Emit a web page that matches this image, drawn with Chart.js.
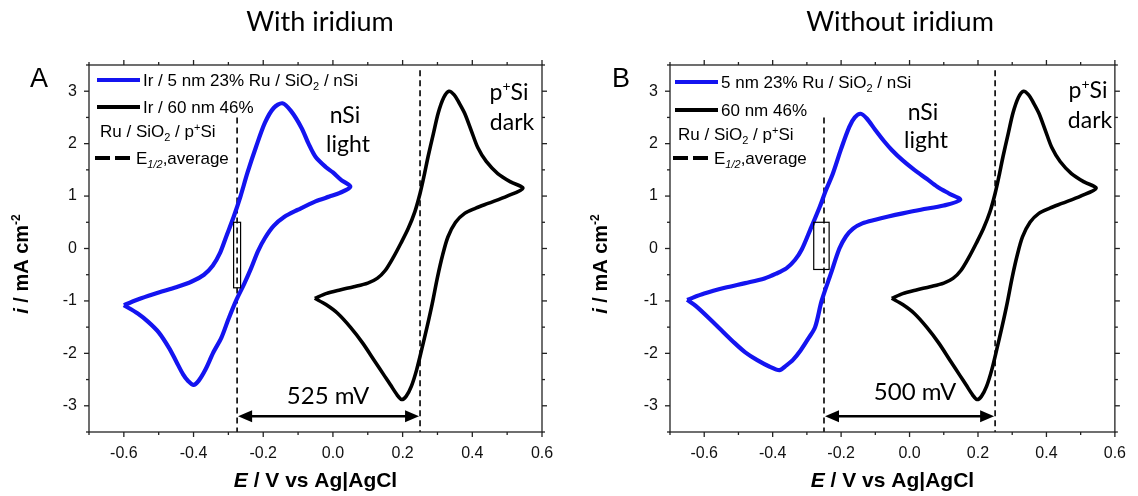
<!DOCTYPE html>
<html>
<head>
<meta charset="utf-8">
<script src="https://cdn.jsdelivr.net/npm/chart.js@4.4.1/dist/chart.umd.min.js"></script>
<style>
  body { margin: 0; background: #fff; }
  #wrap { position: relative; width: 1138px; height: 496px; }
  canvas { position: absolute; top: 0; }
</style>
</head>
<body>
<div id="wrap">
  <canvas id="chart-a" width="569" height="496" style="left:0"></canvas>
  <canvas id="chart-b" width="569" height="496" style="left:569px"></canvas>
</div>
<script>
// axis ticks
const xTicks = [-0.6, -0.4, -0.2, 0, 0.2, 0.4, 0.6];
const xMinor = [-0.7, -0.5, -0.3, -0.1, 0.1, 0.3, 0.5];
const yTicks = [-3, -2, -1, 0, 1, 2, 3];
const yMinor = [-3.5, -2.5, -1.5, -0.5, 0.5, 1.5, 2.5, 3.5];

// [E (V), i (mA cm-2)]
const blueA = [
  [-0.6, -1.08], [-0.55, -0.95], [-0.5, -0.84], [-0.45, -0.74], [-0.405, -0.63], [-0.37, -0.5],
  [-0.345, -0.33], [-0.325, -0.1], [-0.305, 0.25], [-0.285, 0.6], [-0.265, 1.0], [-0.245, 1.45],
  [-0.22, 1.95], [-0.195, 2.4], [-0.17, 2.68], [-0.145, 2.77], [-0.12, 2.62], [-0.09, 2.3],
  [-0.07, 2.0], [-0.05, 1.75], [-0.02, 1.55], [0.0, 1.45], [0.025, 1.3], [0.05, 1.18],
  [0.02, 1.06], [-0.01, 0.99], [-0.05, 0.9], [-0.1, 0.74], [-0.14, 0.6], [-0.17, 0.43],
  [-0.195, 0.2], [-0.215, -0.05], [-0.235, -0.38], [-0.255, -0.68], [-0.277, -0.98], [-0.3, -1.35],
  [-0.32, -1.7], [-0.343, -1.98], [-0.365, -2.3], [-0.385, -2.52], [-0.4, -2.6], [-0.415, -2.53],
  [-0.43, -2.4], [-0.45, -2.15], [-0.47, -1.9], [-0.5, -1.6], [-0.53, -1.4], [-0.56, -1.24],
  [-0.6, -1.08]
];
const blueB = [
  [-0.65, -0.98], [-0.6, -0.86], [-0.54, -0.75], [-0.48, -0.66], [-0.424, -0.57], [-0.39, -0.48],
  [-0.36, -0.38], [-0.335, -0.22], [-0.315, -0.02], [-0.29, 0.36], [-0.262, 0.8], [-0.245, 1.1],
  [-0.224, 1.43], [-0.2, 1.9], [-0.176, 2.32], [-0.16, 2.5], [-0.143, 2.57], [-0.125, 2.48],
  [-0.1, 2.26], [-0.075, 2.05], [-0.052, 1.88], [-0.02, 1.68], [0.014, 1.5], [0.05, 1.33],
  [0.081, 1.18], [0.115, 1.05], [0.148, 0.93], [0.1, 0.82], [0.033, 0.74], [-0.02, 0.67],
  [-0.062, 0.61], [-0.1, 0.55], [-0.138, 0.48], [-0.165, 0.38], [-0.186, 0.23], [-0.205, 0.0],
  [-0.23, -0.48], [-0.257, -1.0], [-0.276, -1.5], [-0.297, -1.73], [-0.318, -1.94], [-0.34, -2.12],
  [-0.36, -2.23], [-0.38, -2.32], [-0.41, -2.25], [-0.445, -2.13], [-0.48, -1.98], [-0.51, -1.81],
  [-0.57, -1.43], [-0.624, -1.1], [-0.65, -0.98]
];
// p+Si dark, same sample in both panels
const blackLoop = [
  [-0.052, -0.95], [-0.02, -0.86], [0.02, -0.79], [0.06, -0.73], [0.1, -0.66], [0.127, -0.57],
  [0.15, -0.42], [0.175, -0.15], [0.195, 0.1], [0.216, 0.38], [0.235, 0.7], [0.25, 1.05],
  [0.262, 1.4], [0.273, 1.75], [0.288, 2.18], [0.302, 2.58], [0.318, 2.88], [0.333, 3.0],
  [0.348, 2.93], [0.362, 2.78], [0.378, 2.58], [0.397, 2.25], [0.416, 1.92], [0.44, 1.66],
  [0.473, 1.43], [0.51, 1.27], [0.545, 1.15], [0.5, 1.0], [0.445, 0.86], [0.41, 0.77],
  [0.378, 0.67], [0.352, 0.5], [0.33, 0.22], [0.315, -0.12], [0.3, -0.55], [0.285, -1.05],
  [0.27, -1.5], [0.255, -1.92], [0.24, -2.32], [0.225, -2.63], [0.21, -2.82], [0.197, -2.88],
  [0.185, -2.8], [0.165, -2.6], [0.147, -2.42], [0.12, -2.15], [0.085, -1.8], [0.05, -1.5],
  [0.014, -1.24], [-0.02, -1.07], [-0.052, -0.95]
];

// E1/2 average lines [light, dark] and marked boxes [E0, E1, i0, i1]
const eHalfA = [-0.275, 0.25];
const eHalfB = [-0.25, 0.25];
const boxA = [-0.285, -0.265, -0.75, 0.5];
const boxB = [-0.28, -0.235, -0.4, 0.5];

const BLUE = '#1414f0';
const SANS = '"Liberation Sans", Arial, sans-serif';
const CAL = 'Lato, "Open Sans", sans-serif';

const toXY = pts => pts.map(p => ({ x: p[0], y: p[1] }));

// draws a run of text pieces [text, font, dy]
function rich(ctx, parts, x, y, align) {
  let w = 0;
  parts.forEach(p => { ctx.font = p[1]; w += ctx.measureText(p[0]).width; });
  let cx = align === 'center' ? x - w / 2 : x;
  ctx.textAlign = 'left';
  ctx.textBaseline = 'alphabetic';
  parts.forEach(p => {
    ctx.font = p[1];
    ctx.fillText(p[0], cx, y + (p[2] || 0));
    cx += ctx.measureText(p[0]).width;
  });
}

function line(ctx, x0, y0, x1, y1) {
  ctx.beginPath(); ctx.moveTo(x0, y0); ctx.lineTo(x1, y1); ctx.stroke();
}

function decor(p) {
  return {
    id: 'decor',
    afterDraw(chart) {
      const { ctx, chartArea: a, scales: { x, y } } = chart;
      ctx.save();
      ctx.fillStyle = '#000';
      ctx.strokeStyle = '#222';
      ctx.lineWidth = 1.3;
      ctx.strokeRect(a.left, a.top, a.right - a.left, a.bottom - a.top);

      // ticks on all four sides, outward
      const tx = (v, len) => {
        const px = x.getPixelForValue(v);
        line(ctx, px, a.bottom, px, a.bottom + len);
        line(ctx, px, a.top, px, a.top - len);
      };
      const ty = (v, len) => {
        const py = y.getPixelForValue(v);
        line(ctx, a.left, py, a.left - len, py);
        line(ctx, a.right, py, a.right + len, py);
      };
      xTicks.forEach(v => tx(v, 5));
      xMinor.forEach(v => tx(v, 3));
      yTicks.forEach(v => ty(v, 5));
      yMinor.forEach(v => ty(v, 3));

      // marked box
      ctx.strokeStyle = '#000';
      ctx.lineWidth = 1.2;
      const bx0 = x.getPixelForValue(p.box[0]), bx1 = x.getPixelForValue(p.box[1]);
      const by0 = y.getPixelForValue(p.box[3]), by1 = y.getPixelForValue(p.box[2]);
      ctx.strokeRect(bx0, by0, bx1 - bx0, by1 - by0);

      // double arrow between the E1/2 lines
      const ax0 = x.getPixelForValue(p.eHalf[0]), ax1 = x.getPixelForValue(p.eHalf[1]);
      const ay = y.getPixelForValue(-3.2);
      ctx.lineWidth = 2.5;
      line(ctx, ax0 + 8, ay, ax1 - 8, ay);
      [[ax0, 1], [ax1, -1]].forEach(([hx, d]) => {
        ctx.beginPath();
        ctx.moveTo(hx + 1 * d, ay);
        ctx.lineTo(hx + 15 * d, ay - 6);
        ctx.lineTo(hx + 15 * d, ay + 6);
        ctx.closePath();
        ctx.fill();
      });
      rich(ctx, [[p.gap, '24px ' + CAL]], p.gapPos[0], p.gapPos[1], 'center');

      // titles and letters
      rich(ctx, [[p.title, '27px ' + CAL]], p.titlePos[0], p.titlePos[1], 'center');
      rich(ctx, [[p.letter, '27px ' + SANS]], p.letterPos[0], p.letterPos[1], 'center');

      // axis titles
      const xm = (a.left + a.right) / 2;
      rich(ctx, [['E', 'italic bold 21px ' + SANS], [' / V vs Ag|AgCl', 'bold 21px ' + SANS]], xm, 487, 'center');
      ctx.save();
      ctx.translate(p.yTitleX, 264);
      ctx.rotate(-Math.PI / 2);
      rich(ctx, [['i', 'italic bold 20px ' + SANS], [' / mA cm', 'bold 20px ' + SANS], ['-2', 'bold 12px ' + SANS, -8]], 0, 0, 'center');
      ctx.restore();

      // in-plot labels
      rich(ctx, [['nSi', '23px ' + CAL]], p.nSi[0], p.nSi[1], 'center');
      rich(ctx, [['light', '23px ' + CAL]], p.light[0], p.light[1], 'center');
      rich(ctx, [['p', '23px ' + CAL], ['+', '14px ' + CAL, -9], ['Si', '23px ' + CAL]], p.pSi[0], p.pSi[1], 'center');
      rich(ctx, [['dark', '23px ' + CAL]], p.dark[0], p.dark[1], 'center');

      // legend
      const L = p.leg;
      const f = '17px ' + SANS, fs = '11px ' + SANS;
      ctx.lineWidth = 4;
      ctx.strokeStyle = BLUE;
      line(ctx, L.x, L.y1, L.x + 43, L.y1);
      ctx.strokeStyle = '#000';
      line(ctx, L.x, L.y2, L.x + 43, L.y2);
      ctx.setLineDash([15, 5]);
      line(ctx, L.x - 2, L.y4, L.x + 33, L.y4);
      ctx.setLineDash([]);
      rich(ctx, [[p.legText1a, f], ['2', fs, 4], [' / nSi', f]], L.x + 46, L.y1 + 6);
      rich(ctx, [[p.legText2, f]], L.x + 46, L.y2 + 6);
      rich(ctx, [['Ru / SiO', f], ['2', fs, 4], [' / p', f], ['+', fs, -6], ['Si', f]], L.x + 3, L.y3 + 6);
      rich(ctx, [['E', f], ['1/2', 'italic ' + fs, 4], [',average', f]], L.x + 39, L.y4 + 6);
      ctx.restore();
    }
  };
}

function buildPanel(id, p) {
  new Chart(document.getElementById(id), {
    type: 'scatter',
    data: {
      datasets: [
        { data: toXY(p.blue), borderColor: BLUE, borderWidth: 4.2, showLine: true, pointRadius: 0, tension: 0.3 },
        { data: toXY(blackLoop), borderColor: '#000', borderWidth: 3.6, showLine: true, pointRadius: 0, tension: 0.3 },
        { data: [{ x: p.eHalf[0], y: 2.5 }, { x: p.eHalf[0], y: -3.5 }], borderColor: '#000', borderWidth: 1.6, borderDash: [6, 4], showLine: true, pointRadius: 0 },
        { data: [{ x: p.eHalf[1], y: 3.4 }, { x: p.eHalf[1], y: -3.5 }], borderColor: '#000', borderWidth: 1.6, borderDash: [6, 4], showLine: true, pointRadius: 0 },
      ],
    },
    options: {
      responsive: false,
      animation: false,
      layout: { padding: { left: 0, right: p.padRight, top: 65, bottom: 0 } },
      plugins: { legend: { display: false }, tooltip: { enabled: false } },
      scales: {
        x: {
          type: 'linear', min: -0.7, max: 0.6,
          afterFit(s) { s.height = 64; },
          afterBuildTicks(s) { s.ticks = xTicks.map(v => ({ value: v })); },
          ticks: { callback: v => v.toFixed(1), font: { family: SANS, size: 16 }, color: '#111', padding: 12, maxRotation: 0, autoSkip: false },
          grid: { display: false, drawTicks: false },
          border: { display: false },
        },
        y: {
          type: 'linear', min: -3.5, max: 3.5,
          afterFit(s) { s.width = p.plotLeft; },
          afterBuildTicks(s) { s.ticks = yTicks.map(v => ({ value: v })); },
          ticks: { callback: v => String(v), font: { family: SANS, size: 16 }, color: '#111', padding: 12, autoSkip: false },
          grid: { display: false, drawTicks: false },
          border: { display: false },
        },
      },
    },
    plugins: [decor(p)],
  });
}

buildPanel('chart-a', {
  blue: blueA, eHalf: eHalfA, box: boxA, plotLeft: 89, padRight: 27,
  title: 'With iridium', titlePos: [320, 31], letter: 'A', letterPos: [39, 87],
  yTitleX: 28, gap: '525 mV', gapPos: [328, 404],
  nSi: [345, 123], light: [348, 152], pSi: [509, 100], dark: [512, 130],
  leg: { x: 97, y1: 80, y2: 107, y3: 131, y4: 158 },
  legText1a: 'Ir / 5 nm 23% Ru / SiO', legText2: 'Ir / 60 nm 46%',
});

buildPanel('chart-b', {
  blue: blueB, eHalf: eHalfB, box: boxB, plotLeft: 101, padRight: 15,
  title: 'Without iridium', titlePos: [331, 31], letter: 'B', letterPos: [52, 87],
  yTitleX: 38, gap: '500 mV', gapPos: [346, 400],
  nSi: [354, 120], light: [357, 148], pSi: [519, 98], dark: [521, 128],
  leg: { x: 106, y1: 82, y2: 110, y3: 134, y4: 158 },
  legText1a: '5 nm 23% Ru / SiO', legText2: '60 nm 46%',
});
</script>
</body>
</html>
